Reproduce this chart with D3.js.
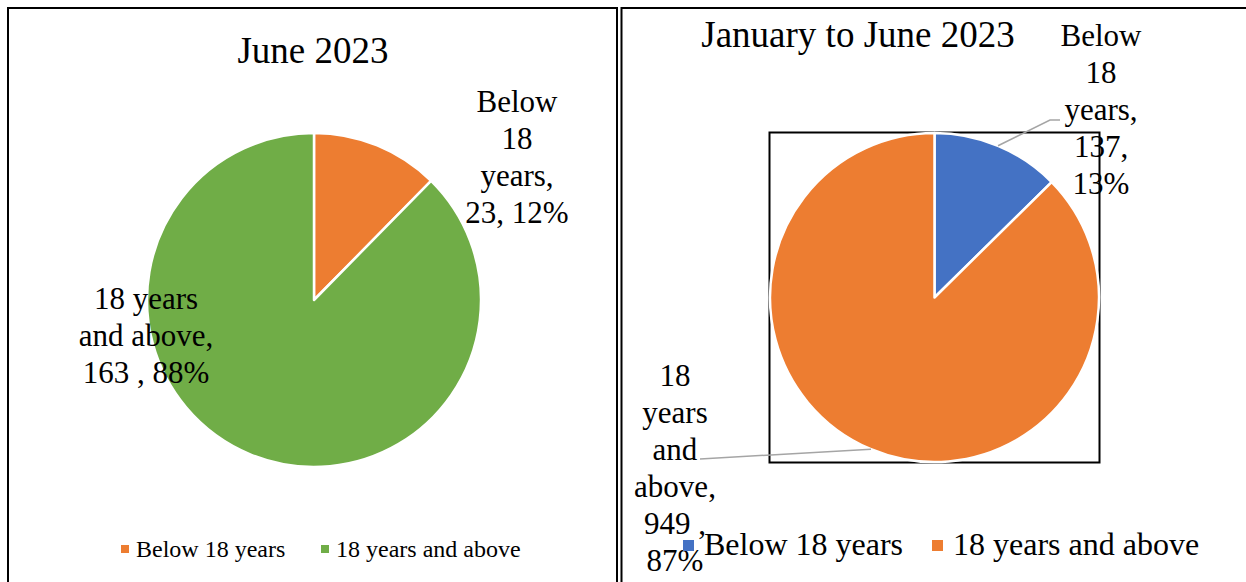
<!DOCTYPE html>
<html><head><meta charset="utf-8">
<script src="https://cdn.jsdelivr.net/npm/d3@7"></script>
<style>body{margin:0;background:#fff}svg{display:block}text{font-family:'Liberation Serif','Times New Roman','DejaVu Serif',serif}</style>
</head><body><svg id="c" width="1246" height="582"></svg>
<script>
const categories = ["Below 18 years", "18 years and above"];
const titles = ["June 2023", "January to June 2023"];
const juneValues = [23, 163];
const juneLabels = [["Below", "18", "years,", "23, 12%"], ["18 years", "and above,", "163 , 88%"]];
const halfYearValues = [137, 949];
const halfYearLabels = [["Below", "18", "years,", "137,", "13%"], ["18", "years", "and", "above,", "949 ,", "87%"]];
const juneColors = ["#ED7D31", "#70AD47"];
const halfYearColors = ["#4472C4", "#ED7D31"];

const FONT = "'Liberation Serif', 'Times New Roman', 'DejaVu Serif', serif";
const svg = d3.select("#c");

// panel borders
const border = svg.append("g").attr("stroke", "#000").attr("stroke-width", 2).attr("fill", "none");
border.append("path").attr("d", "M8,600 V8 H617 V600");
border.append("path").attr("d", "M621.5,600 V8 H1260");

const pie = d3.pie().sort(null).value(d => d);

function drawPanel(cfg) {
  const g = svg.append("g").attr("font-family", FONT);
  g.append("text").attr("x", cfg.titleX).attr("y", cfg.titleY).attr("text-anchor", "middle")
    .attr("font-family", FONT).attr("font-size", 37).attr("fill", "#000").text(cfg.title);
  if (cfg.frame) {
    g.append("rect").attr("x", cfg.cx - cfg.r - 0.5).attr("y", cfg.cy - cfg.r - 0.5)
      .attr("width", 2 * cfg.r + 1).attr("height", 2 * cfg.r + 1)
      .attr("fill", "none").attr("stroke", "#000").attr("stroke-width", 2);
  }
  const arcs = pie(cfg.values);
  const arc = d3.arc().innerRadius(0).outerRadius(cfg.r);
  const edge = d3.arc().innerRadius(cfg.r).outerRadius(cfg.r);
  const color = d3.scaleOrdinal().domain(categories).range(cfg.colors);
  const pg = g.append("g").attr("transform", `translate(${cfg.cx},${cfg.cy})`);
  pg.selectAll("path").data(arcs).join("path")
    .attr("d", arc).attr("fill", (d, i) => color(categories[i]))
    .attr("stroke", "#fff").attr("stroke-width", 2.5).attr("stroke-linejoin", "round");
  // leader lines
  arcs.forEach((d, i) => {
    const lp = cfg.leaders[i];
    if (!lp) return;
    const c = edge.centroid(d);
    const pts = lp.concat([[cfg.cx + c[0], cfg.cy + c[1]]]);
    g.append("path").attr("d", d3.line()(pts)).attr("fill", "none")
      .attr("stroke", "#A5A5A5").attr("stroke-width", 1.5);
  });
  // data labels
  cfg.labels.forEach((lines, i) => {
    const t = g.append("text").attr("text-anchor", "middle").attr("font-family", FONT)
      .attr("font-size", cfg.labelSize).attr("fill", "#000");
    lines.forEach((ln, j) => {
      t.append("tspan").attr("x", cfg.labelPos[i][0]).attr("y", cfg.labelPos[i][1] + j * cfg.lineH).text(ln);
    });
  });
  // legend
  const lg = g.append("g");
  categories.forEach((c, i) => {
    const x = cfg.legendX[i];
    lg.append("rect").attr("x", x).attr("y", cfg.legendY - cfg.mark - cfg.markOff)
      .attr("width", cfg.mark).attr("height", cfg.mark).attr("fill", color(c));
    lg.append("text").attr("x", x + cfg.mark + cfg.gap).attr("y", cfg.legendY).attr("font-family", FONT)
      .attr("font-size", cfg.legendSize).attr("fill", "#000").text(c);
  });
}

drawPanel({
  title: titles[0], titleX: 313, titleY: 63,
  values: juneValues, colors: juneColors, cx: 314, cy: 300, r: 167, frame: false,
  labels: juneLabels, labelPos: [[517, 112], [146, 309]], lineH: 37, labelSize: 31,
  leaders: [null, null],
  legendX: [121, 321], legendY: 557, legendSize: 24, mark: 8, markOff: 4, gap: 7
});

drawPanel({
  title: titles[1], titleX: 858, titleY: 47,
  values: halfYearValues, colors: halfYearColors, cx: 934.5, cy: 297.5, r: 164.5, frame: true,
  labels: halfYearLabels, labelPos: [[1101, 46], [675, 386]], lineH: 37, labelSize: 31,
  leaders: [[[1060, 120], [1050, 120]], [[700, 459]]],
  legendX: [683, 932], legendY: 555, legendSize: 32, mark: 11, markOff: 4, gap: 10
});
</script></body></html>
